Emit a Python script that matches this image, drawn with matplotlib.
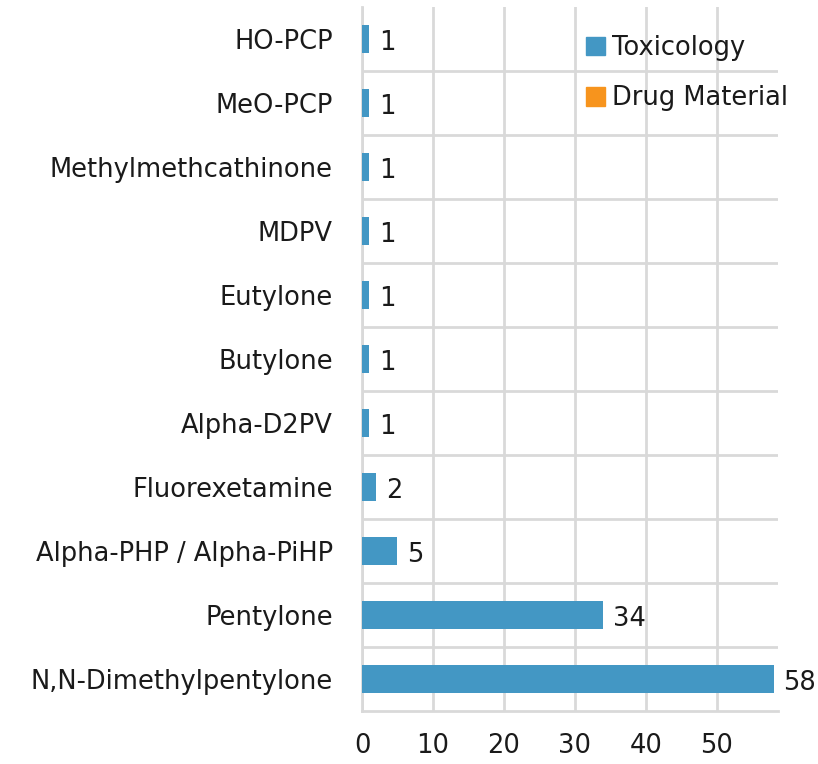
import matplotlib
matplotlib.use('Agg')
import matplotlib.pyplot as plt
from matplotlib.patches import Patch

categories = [
    'N,N-Dimethylpentylone',
    'Pentylone',
    'Alpha-PHP / Alpha-PiHP',
    'Fluorexetamine',
    'Alpha-D2PV',
    'Butylone',
    'Eutylone',
    'MDPV',
    'Methylmethcathinone',
    'MeO-PCP',
    'HO-PCP',
]
toxicology = [58, 34, 5, 2, 1, 1, 1, 1, 1, 1, 1]
drug_material = [0, 0, 0, 0, 0, 0, 0, 0, 0, 0, 0]
x_ticks = [0, 10, 20, 30, 40, 50]

blue = '#4397C4'
orange = '#F7941D'
grid_c = '#D9D9D9'
text_c = '#1A1A1A'
fs = 18.5

plt.rcParams['font.family'] = ['DejaVu Sans']

fig = plt.figure(figsize=(8.18, 7.64), dpi=100)
ax = fig.add_axes([362 / 818, 1 - 711 / 764, (778 - 362) / 818, (711 - 7) / 764])

ypos = list(range(len(categories)))
ax.barh(ypos, toxicology, height=0.44, color=blue, zorder=3)
ax.barh(ypos, drug_material, height=0.44, left=toxicology, color=orange, zorder=3)

for y, v in zip(ypos, toxicology):
    ax.annotate(str(v), (v, y), xytext=(7, -3), textcoords='offset points',
                va='center', ha='left', fontsize=fs, color=text_c)

ax.set_xlim(0, 58.6)
ax.set_ylim(-0.5, len(categories) - 0.5)
ax.set_xticks(x_ticks)
ax.set_yticks(ypos)
ax.set_yticklabels(categories)
ax.set_yticks([y + 0.5 for y in ypos[:-1]], minor=True)

ax.grid(axis='x', color=grid_c, linewidth=2, zorder=0)
ax.grid(axis='y', which='minor', color=grid_c, linewidth=2, zorder=0)
ax.tick_params(axis='both', which='both', length=0, labelsize=fs, colors=text_c)
ax.tick_params(axis='x', pad=16)
ax.tick_params(axis='y', pad=21)
for s in ['top', 'right']:
    ax.spines[s].set_visible(False)
for s in ['left', 'bottom']:
    ax.spines[s].set_color(grid_c)
    ax.spines[s].set_linewidth(2)

handles = [Patch(color=blue, label='Toxicology'), Patch(color=orange, label='Drug Material')]
leg = fig.legend(handles=handles, loc='upper left', bbox_to_anchor=(568 / 818, 1 - 17 / 764),
                 frameon=False, fontsize=fs, handlelength=0.75, handleheight=0.75,
                 handletextpad=0.25, labelspacing=0.95, borderpad=0.2)
for t in leg.get_texts():
    t.set_color(text_c)

fig.savefig('out.png', dpi=100, facecolor='white')
